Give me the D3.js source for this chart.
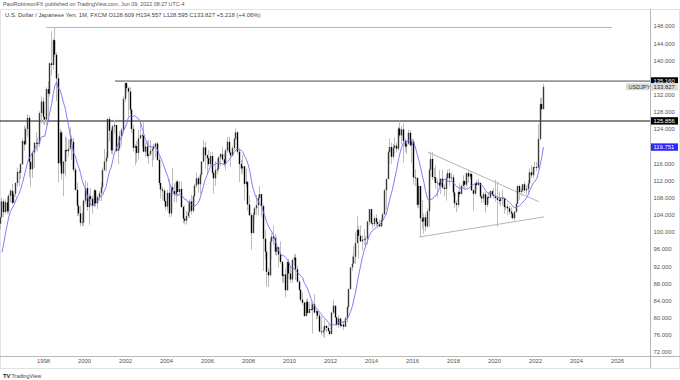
<!DOCTYPE html>
<html lang="en">
<head>
<meta charset="UTF-8">
<title>USDJPY monthly</title>
<script src="https://cdn.jsdelivr.net/npm/d3@7"></script>
<style>
  body { margin: 0; background: #fff; }
  svg text { font-family: "Liberation Sans", Arial, sans-serif; }
  .axis text { fill: #555; font-size: 5.9px; }
  .axis path, .axis line { display: none; }
</style>
</head>
<body>
<svg id="chart" width="680" height="380"></svg>
<script>
// monthly USD/JPY, first bar = Apr 1995 (bars before the left edge only feed the average)
var firstMonth = [1995, 3];
var firstOpen = 86.5;

var closes = [
  84.2, 84.5, 84.7, 88.4, 97.3, 98.9, 101.8, 101.9, 103.4,                 // 1995 (Apr-Dec)
  107.1, 104.6, 106.9, 104.8, 108.4, 109.6, 106.8, 108.9, 111.4, 114.0, 113.8, 115.8, // 1996
  121.2, 120.4, 124.0, 126.6, 116.3, 114.6, 118.5, 120.8, 120.7, 120.6, 127.7, 130.4, // 1997
  126.8, 126.2, 133.3, 132.2, 139.3, 138.9, 144.7, 141.3, 135.8, 116.0, 123.2, 113.6, // 1998
  116.4, 119.1, 118.8, 119.4, 121.6, 121.0, 114.5, 109.8, 106.1, 104.3, 102.1, 102.2, // 1999
  107.3, 110.2, 105.8, 108.3, 107.7, 106.2, 109.7, 106.7, 108.1, 109.0, 110.4, 114.4, // 2000
  116.4, 117.3, 126.3, 123.6, 119.0, 124.6, 124.9, 118.9, 119.4, 122.4, 123.8, 131.0, // 2001
  134.7, 133.5, 132.7, 128.5, 124.0, 119.6, 120.0, 118.4, 121.8, 122.5, 122.4, 118.7, // 2002
  119.9, 117.7, 118.1, 118.9, 119.3, 119.9, 120.6, 116.8, 111.4, 109.9, 109.6, 107.2, // 2003
  105.9, 109.1, 104.3, 110.4, 109.5, 108.8, 111.7, 109.3, 110.0, 105.8, 103.1, 102.6, // 2004
  103.7, 104.6, 107.1, 104.9, 108.3, 110.8, 112.5, 111.1, 113.3, 116.4, 119.7, 117.9, // 2005
  117.2, 115.8, 117.7, 113.8, 112.5, 114.4, 114.7, 117.4, 118.1, 116.9, 115.8, 119.0, // 2006
  121.0, 118.5, 117.8, 119.5, 121.7, 123.2, 118.7, 115.8, 114.8, 115.3, 111.2, 111.7, // 2007
  106.4, 103.9, 99.7, 104.0, 105.5, 106.2, 107.9, 108.8, 106.0, 98.4, 95.4, 90.7,     // 2008
  89.9, 97.7, 98.9, 98.5, 95.4, 96.4, 94.7, 93.0, 89.7, 90.1, 86.4, 93.0,             // 2009
  90.3, 88.9, 93.5, 94.0, 91.3, 88.4, 86.5, 84.2, 83.5, 80.4, 83.7, 81.1,             // 2010
  82.0, 81.8, 83.1, 81.2, 81.5, 80.5, 76.8, 76.6, 77.0, 78.1, 77.6, 76.9,             // 2011
  76.2, 81.2, 82.8, 80.1, 78.3, 79.8, 78.1, 78.4, 77.9, 79.8, 82.5, 86.7,             // 2012
  91.7, 92.6, 94.2, 97.4, 100.5, 99.1, 97.8, 98.2, 98.3, 98.4, 102.4, 105.3,          // 2013
  102.0, 101.8, 103.2, 102.3, 101.8, 101.3, 102.8, 104.1, 109.7, 112.3, 118.6, 119.8, // 2014
  117.5, 119.6, 120.1, 119.4, 124.1, 122.5, 123.9, 121.2, 119.9, 120.6, 123.1, 120.2, // 2015
  121.1, 112.7, 112.6, 106.3, 110.7, 103.2, 102.4, 103.4, 101.3, 104.8, 114.5, 117.0, // 2016
  112.8, 112.7, 111.4, 111.5, 110.8, 112.4, 110.3, 110.0, 112.5, 113.7, 112.5, 112.7, // 2017
  109.2, 106.7, 106.3, 109.3, 108.8, 110.7, 111.9, 111.0, 113.7, 112.9, 113.5, 109.7, // 2018
  108.9, 111.4, 110.9, 111.4, 108.3, 107.8, 108.8, 106.3, 108.1, 108.0, 109.5, 108.7, // 2019
  108.4, 107.9, 107.5, 107.2, 107.8, 107.9, 105.8, 105.9, 105.5, 104.7, 104.3, 103.2, // 2020
  104.7, 106.6, 110.7, 109.3, 109.6, 111.1, 109.7, 110.0, 111.3, 113.9, 113.2, 115.1, // 2021
  115.1, 115.0, 121.7, 129.8, 128.609, 133.827                                        // 2022 (Jan-Jun)
];

var highs = [
  86.6, 86.0, 85.5, 89.5, 99.5, 104.8, 102.1, 102.5, 103.5,
  107.9, 107.6, 107.6, 108.2, 108.8, 110.0, 111.2, 109.3, 111.6, 114.9, 114.3, 116.1,
  121.8, 124.8, 124.4, 127.5, 127.2, 116.5, 118.8, 120.9, 123.2, 122.0, 128.1, 131.6,
  131.4, 128.9, 133.7, 135.1, 139.5, 146.8, 145.0, 147.7, 141.9, 136.9, 124.0, 123.6,
  116.5, 122.3, 122.0, 121.6, 124.4, 122.5, 122.0, 115.0, 111.5, 107.2, 106.0, 104.5,
  107.5, 112.0, 111.6, 108.9, 110.2, 108.4, 110.0, 109.7, 108.5, 109.6, 111.5, 115.0,
  119.3, 118.5, 126.6, 126.9, 124.1, 124.9, 126.2, 125.0, 121.9, 123.5, 124.2, 131.6,
  135.2, 134.7, 133.9, 133.8, 128.9, 125.0, 120.5, 121.2, 123.8, 125.7, 123.0, 125.7,
  120.8, 121.2, 121.5, 121.4, 119.6, 120.5, 120.8, 121.0, 117.5, 112.0, 110.5, 110.0,
  107.9, 109.8, 112.2, 110.6, 114.9, 111.3, 112.0, 112.2, 111.9, 111.8, 106.2, 106.2,
  104.9, 106.7, 107.6, 108.7, 108.6, 111.2, 113.8, 112.9, 113.7, 116.5, 121.4, 121.0,
  118.0, 119.1, 118.7, 118.6, 114.0, 116.5, 117.0, 117.6, 118.4, 119.9, 118.2, 119.4,
  122.2, 122.2, 118.9, 120.0, 121.9, 124.1, 123.5, 119.6, 116.8, 117.9, 115.4, 114.7,
  111.6, 108.5, 104.4, 104.6, 105.8, 108.6, 108.6, 110.7, 108.9, 106.4, 100.5, 96.6,
  91.7, 98.6, 99.7, 101.4, 99.4, 98.9, 96.5, 97.8, 93.3, 92.3, 91.5, 93.1,
  93.7, 91.8, 93.6, 94.8, 94.9, 92.1, 88.8, 87.0, 85.9, 83.7, 84.4, 84.5,
  83.7, 84.0, 83.3, 85.5, 82.2, 81.5, 81.0, 80.2, 77.9, 79.6, 78.3, 78.3,
  77.3, 81.3, 84.2, 82.6, 80.4, 80.6, 80.0, 79.6, 79.2, 80.2, 82.8, 86.8,
  91.8, 94.5, 96.7, 99.9, 103.7, 101.5, 101.5, 99.2, 100.6, 99.0, 102.6, 105.4,
  105.4, 102.8, 103.8, 104.1, 102.7, 102.8, 103.1, 104.5, 110.1, 112.5, 118.9, 121.8,
  120.8, 120.5, 122.0, 120.8, 124.5, 125.9, 124.6, 125.3, 121.7, 121.5, 123.8, 123.7,
  121.7, 121.7, 114.6, 112.0, 111.4, 110.5, 107.5, 104.3, 104.3, 105.5, 114.8, 118.7,
  118.6, 114.9, 115.5, 112.2, 114.4, 112.5, 114.5, 111.1, 113.3, 114.5, 114.7, 113.8,
  113.4, 110.5, 107.3, 109.6, 111.4, 111.0, 113.2, 111.8, 113.9, 114.6, 114.2, 113.8,
  109.9, 111.5, 112.1, 112.4, 111.7, 108.8, 109.3, 109.3, 108.5, 109.3, 109.7, 109.7,
  110.3, 112.2, 111.7, 109.4, 108.1, 109.9, 107.8, 107.1, 106.6, 106.1, 105.7, 104.7,
  104.9, 106.7, 111.0, 111.0, 110.2, 111.2, 111.7, 110.8, 112.1, 114.7, 115.5, 115.2,
  116.35, 116.3, 125.1, 131.25, 131.3, 134.557
];

var lows = [
  79.8, 82.3, 82.5, 83.9, 87.5, 95.7, 97.3, 99.2, 100.6,
  103.2, 103.5, 104.2, 104.1, 104.2, 106.9, 106.4, 106.8, 108.2, 110.5, 110.8, 112.4,
  115.6, 119.0, 120.3, 122.2, 112.7, 110.6, 112.6, 115.0, 119.0, 118.7, 119.8, 125.3,
  125.1, 124.9, 124.9, 126.9, 131.5, 136.5, 137.8, 140.6, 130.5, 111.6, 115.4, 112.2,
  108.3, 112.9, 116.4, 117.5, 119.2, 116.8, 114.0, 109.6, 103.7, 103.7, 101.4, 101.3,
  101.4, 106.5, 104.9, 101.7, 106.4, 104.2, 105.8, 105.8, 105.3, 107.2, 107.2, 109.8,
  114.2, 114.0, 117.0, 121.0, 118.2, 118.0, 122.9, 118.5, 115.8, 119.2, 120.1, 123.1,
  130.3, 131.9, 126.8, 127.4, 123.1, 118.7, 115.5, 116.2, 116.8, 121.7, 119.9, 118.5,
  117.5, 117.1, 115.9, 117.7, 115.1, 116.7, 117.4, 116.5, 110.9, 107.8, 107.5, 106.8,
  105.1, 104.9, 103.4, 103.5, 108.4, 106.9, 106.9, 108.3, 108.8, 105.6, 102.0, 101.8,
  101.7, 103.3, 103.2, 104.1, 104.5, 106.4, 110.3, 109.2, 108.8, 112.7, 116.3, 114.8,
  113.4, 115.3, 115.3, 113.4, 108.9, 110.7, 113.4, 114.0, 115.4, 116.5, 115.2, 114.4,
  118.5, 118.3, 115.1, 117.6, 119.1, 121.3, 118.2, 111.6, 113.4, 113.7, 107.3, 110.5,
  104.9, 103.7, 95.8, 99.8, 102.5, 103.9, 103.8, 107.5, 103.5, 90.9, 93.6, 87.2,
  87.1, 89.6, 93.6, 97.0, 94.5, 94.5, 91.7, 92.6, 88.2, 88.0, 84.8, 86.3,
  89.0, 88.1, 88.1, 92.1, 88.8, 88.2, 86.2, 83.6, 82.9, 80.2, 80.3, 80.9,
  81.0, 81.6, 76.3, 81.1, 79.6, 79.7, 76.6, 75.9, 75.6, 75.3, 76.6, 76.8,
  75.9, 76.1, 80.9, 79.8, 78.0, 77.7, 77.6, 78.0, 77.1, 77.9, 79.0, 81.7,
  86.5, 90.9, 92.5, 92.6, 97.3, 93.8, 97.6, 95.8, 96.9, 96.6, 97.1, 101.6,
  101.8, 100.8, 101.2, 101.4, 100.8, 101.1, 101.1, 101.5, 103.9, 105.2, 112.5, 115.6,
  115.9, 116.9, 118.3, 118.5, 118.9, 122.0, 120.4, 116.2, 118.6, 118.1, 120.3, 119.9,
  116.0, 111.0, 110.7, 105.6, 105.5, 99.0, 100.7, 99.6, 100.1, 100.9, 101.2, 112.9,
  112.1, 111.6, 110.1, 108.1, 110.2, 108.8, 110.1, 108.3, 107.3, 111.7, 110.8, 111.9,
  108.3, 105.6, 104.6, 105.7, 108.1, 108.9, 110.3, 110.0, 110.4, 111.4, 112.2, 109.6,
  104.9, 108.5, 109.7, 110.8, 108.2, 106.8, 106.8, 104.5, 105.7, 106.5, 107.9, 108.4,
  107.7, 107.0, 101.2, 106.4, 106.0, 106.1, 104.2, 105.1, 104.0, 104.0, 103.2, 102.9,
  102.6, 104.4, 106.4, 107.5, 108.3, 109.2, 109.1, 108.7, 109.1, 110.8, 112.5, 112.5,
  113.5, 114.2, 114.6, 121.3, 126.4, 128.595
];

var maLength = 10;
var priceTicks = [72, 76, 80, 84, 88, 92, 96, 100, 104, 108, 112, 116, 120, 124, 128, 132, 136, 140, 144, 148];
var yearTicks = [1998, 2000, 2002, 2004, 2006, 2008, 2010, 2012, 2014, 2016, 2018, 2020, 2022, 2024, 2026];

// hand drawn lines: [year, month, price]
var levelLines = [
  { from: [1998, 1.8, 147.66], to: [2025, 9.1, 147.66], color: "#b4b4b4", width: 1 },
  { from: [2001, 6.1, 135.16], to: [2030, 0, 135.16], color: "#4a4a4a", width: 1 },
  { from: [1990, 0, 125.856], to: [2030, 0, 125.856], color: "#111", width: 1.2 }
];
var triangleLines = [
  { from: [2016, 9.4, 118.6], to: [2022, 2.4, 107.0] },
  { from: [2016, 4.1, 98.8], to: [2022, 5.3, 103.5] }
];

var lastClose = 133.827, maLast = 119.751;

var W = 680, H = 380;
var plotRight = 650, plotTop = 9, plotBottom = 356;

var svg = d3.select("#chart");
svg.append("rect").attr("width", W).attr("height", H).attr("fill", "#fff");

var x = d3.scaleTime()
    .domain([new Date(1998, 0, 1), new Date(2026, 0, 1)])
    .range([43, 617]);
var y = d3.scaleLinear().domain([72, 148]).range([352, 26]);

function dt(p) { return new Date(p[0], 0, 1 + Math.round(p[1] * 30.44)); }

var bars = closes.map(function (c, i) {
  return {
    date: new Date(firstMonth[0], firstMonth[1] + i, 1),
    open: i === 0 ? firstOpen : closes[i - 1],
    high: highs[i], low: lows[i], close: c
  };
});

bars.forEach(function (b, i) {
  if (i >= maLength - 1) {
    b.ma = d3.mean(closes.slice(i - maLength + 1, i + 1));
  }
});

svg.append("defs").append("clipPath").attr("id", "plotclip")
  .append("rect").attr("x", 0).attr("y", plotTop).attr("width", plotRight).attr("height", plotBottom - plotTop);

// pane borders
svg.append("rect").attr("x", 0.5).attr("y", plotTop + 0.5).attr("width", W - 1).attr("height", 368 - plotTop)
  .attr("fill", "none").attr("stroke", "#e3e3e3");
svg.append("line").attr("x1", plotRight + 0.5).attr("x2", plotRight + 0.5).attr("y1", plotTop).attr("y2", 368)
  .attr("stroke", "#b8b8b8");
svg.append("line").attr("x1", 0).attr("x2", W).attr("y1", plotBottom + 0.5).attr("y2", plotBottom + 0.5)
  .attr("stroke", "#b8b8b8");

var plot = svg.append("g").attr("clip-path", "url(#plotclip)");

// drawings under the bars
levelLines.concat(triangleLines.map(function (t) {
  return { from: t.from, to: t.to, color: "#b4b4b4", width: 1 };
})).forEach(function (l) {
  plot.append("line")
    .attr("x1", x(dt(l.from))).attr("y1", y(l.from[2]))
    .attr("x2", x(dt(l.to))).attr("y2", y(l.to[2]))
    .attr("stroke", l.color).attr("stroke-width", l.width);
});

var candle = plot.selectAll("g.bar").data(bars).enter().append("g").attr("class", "bar");
candle.append("rect")
  .attr("x", function (d) { return Math.floor(x(d.date)); })
  .attr("width", 1)
  .attr("y", function (d) { return y(d.high); })
  .attr("height", function (d) { return y(d.low) - y(d.high); })
  .attr("fill", "#bdbdbd");
candle.append("rect")
  .attr("x", function (d) { return Math.floor(x(d.date)) - 0.2; })
  .attr("width", 1.4)
  .attr("y", function (d) { return y(Math.max(d.open, d.close)); })
  .attr("height", function (d) { return Math.max(0.8, Math.abs(y(d.open) - y(d.close))); })
  .attr("fill", function (d) { return d.close >= d.open ? "#3a3a3a" : "#000"; });

plot.append("path")
  .datum(bars.filter(function (b) { return b.ma !== undefined; }))
  .attr("fill", "none")
  .attr("stroke", "#6f6ff7")
  .attr("stroke-width", 0.9)
  .attr("d", d3.line().x(function (d) { return x(d.date); }).y(function (d) { return y(d.ma); }));

// price axis
var tagged = [135.16, lastClose, 125.856, maLast];
var yAxis = d3.axisRight(y)
  .tickValues(priceTicks.filter(function (p) {
    return tagged.every(function (t) { return Math.abs(y(p) - y(t)) > 7; });
  }))
  .tickSize(0).tickPadding(0)
  .tickFormat(d3.format(".3f"));
svg.append("g").attr("class", "axis").attr("transform", "translate(" + (plotRight + 3.5) + ",0)").call(yAxis);

var xAxis = d3.axisBottom(x)
  .tickValues(yearTicks.map(function (yr) { return new Date(yr, 0, 1); }))
  .tickSize(0).tickPadding(0)
  .tickFormat(d3.timeFormat("%Y"));
svg.append("g").attr("class", "axis").attr("transform", "translate(0," + (plotBottom + 3) + ")").call(xAxis);

// price tags
var tags = [
  { v: 135.16, bg: "#000", fg: "#fff" },
  { v: lastClose, bg: "#dcdcdc", fg: "#333" },
  { v: 125.856, bg: "#000", fg: "#fff" },
  { v: maLast, bg: "#2a2aff", fg: "#fff" }
];
tags.forEach(function (t) {
  var ty = y(t.v);
  svg.append("rect").attr("x", plotRight + 1).attr("y", ty - 3.8).attr("width", 27).attr("height", 7.4).attr("fill", t.bg);
  svg.append("text").attr("x", plotRight + 3.5).attr("y", ty + 2).attr("fill", t.fg)
    .style("font-size", "5.9px").text(d3.format(".3f")(t.v));
});
var sy = y(lastClose);
svg.append("rect").attr("x", 626).attr("y", sy - 3.5).attr("width", 23).attr("height", 7).attr("fill", "#dcdcdc");
svg.append("text").attr("x", 628.5).attr("y", sy + 2).attr("fill", "#333").style("font-size", "5.6px").text("USDJPY");

// header texts
svg.append("text").attr("x", 3).attr("y", 6).attr("fill", "#555").style("font-size", "5.4px")
  .text("PaulRobinsonFX published on TradingView.com, Jun 09, 2022 08:27 UTC-4");
svg.append("text").attr("x", 5).attr("y", 17).attr("fill", "#444").style("font-size", "5.9px")
  .text("U.S. Dollar / Japanese Yen, 1M, FXCM  O128.609 H134.557 L128.595 C133.827 +5.218 (+4.06%)");

// footer logo
svg.append("text").attr("x", 3).attr("y", 378).attr("fill", "#222").style("font-size", "5.8px")
  .style("font-weight", "bold").text("TV");
svg.append("text").attr("x", 11.5).attr("y", 378).attr("fill", "#444").style("font-size", "5.4px")
  .text("TradingView");
</script>
</body>
</html>
